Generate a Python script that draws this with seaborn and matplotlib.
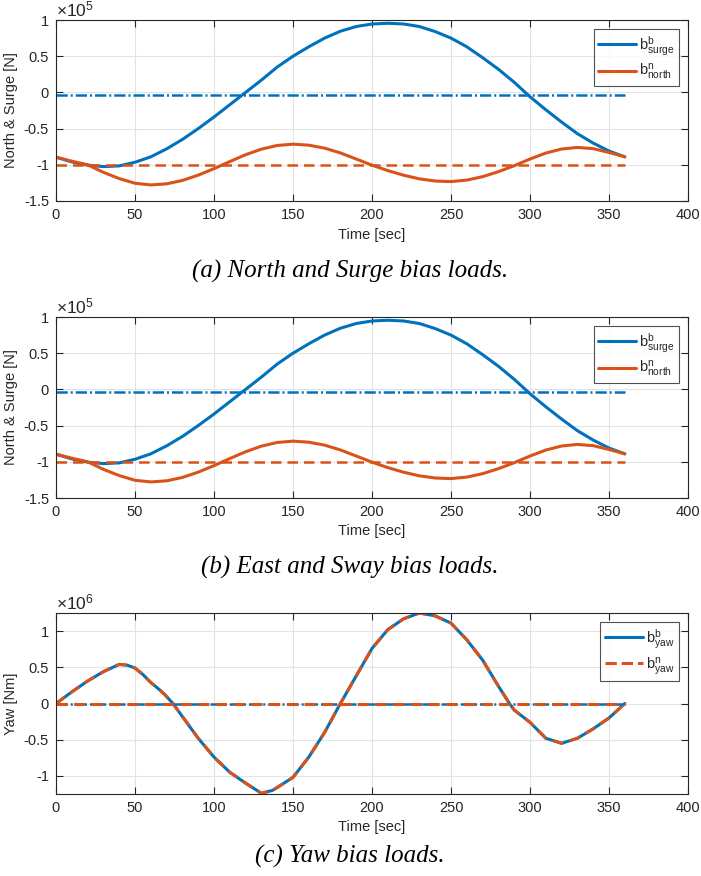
import numpy as np
import pandas as pd
import matplotlib
matplotlib.use("Agg")
import matplotlib.pyplot as plt
import seaborn as sns

# ---------------- data ----------------
# Panel (a)/(b): North & Surge bias loads (x 1e5 N)
t_ns = [0, 10, 20, 30, 40, 50, 60, 70, 80, 90, 100, 110, 120, 130, 140, 150,
        160, 170, 180, 190, 200, 210, 220, 230, 240, 250, 260, 270, 280, 290,
        300, 310, 320, 330, 340, 350, 360]
b_surge = [-0.895, -0.96, -1.005, -1.025, -1.015, -0.965, -0.89, -0.78, -0.65,
           -0.50, -0.34, -0.17, 0.00, 0.17, 0.35, 0.50, 0.63, 0.75, 0.845,
           0.91, 0.945, 0.955, 0.945, 0.91, 0.84, 0.75, 0.63, 0.48, 0.32,
           0.14, -0.06, -0.24, -0.41, -0.57, -0.70, -0.81, -0.89]
b_north = [-0.895, -0.95, -1.00, -1.104, -1.19, -1.255, -1.278, -1.263, -1.216,
           -1.143, -1.053, -0.955, -0.861, -0.784, -0.733, -0.715, -0.729,
           -0.77, -0.836, -0.92, -1.005, -1.08, -1.144, -1.194, -1.224, -1.232,
           -1.211, -1.164, -1.095, -1.013, -0.92, -0.838, -0.782, -0.76,
           -0.777, -0.83, -0.89]
t_const = [0, 360]
surge_const = [-0.04, -0.04]
north_const = [-1.0, -1.0]

# Panel (c): Yaw bias loads (x 1e6 Nm)
t_yaw = [0, 10, 20, 30, 40, 45, 50, 55, 60, 65, 69, 74, 80, 90, 100, 110, 120,
         130, 137, 140, 150, 160, 170, 180, 190, 200, 210, 220, 230, 240, 250,
         260, 270, 280, 287, 290, 300, 310, 320, 330, 340, 350, 360]
b_yaw = [0.0, 0.16, 0.31, 0.44, 0.54, 0.53, 0.49, 0.40, 0.29, 0.20, 0.12, 0.0,
         -0.18, -0.48, -0.74, -0.95, -1.10, -1.24, -1.20, -1.16, -1.02, -0.74,
         -0.40, 0.0, 0.38, 0.76, 1.02, 1.17, 1.25, 1.21, 1.11, 0.88, 0.60,
         0.24, 0.0, -0.09, -0.26, -0.48, -0.55, -0.48, -0.35, -0.20, 0.0]
yaw_const_b = [0.0, 0.0]
yaw_const_n = [0.0, 0.0]

xticks = [0, 50, 100, 150, 200, 250, 300, 350, 400]
yticks_ab = [-1.5, -1, -0.5, 0, 0.5, 1]
yticklabels_ab = ["-1.5", "-1", "-0.5", "0", "0.5", "1"]
yticks_c = [-1, -0.5, 0, 0.5, 1]
yticklabels_c = ["-1", "-0.5", "0", "0.5", "1"]
captions = ["(a) North and Surge bias loads.",
            "(b) East and Sway bias loads.",
            "(c) Yaw bias loads."]

BLUE = "#0072BD"
ORANGE = "#D95319"

# ---------------- style ----------------
sns.set_style("ticks")
plt.rcParams["font.family"] = ["Liberation Sans", "DejaVu Sans"]
plt.rcParams["mathtext.fontset"] = "custom"
plt.rcParams["mathtext.rm"] = "Liberation Sans"
plt.rcParams["mathtext.it"] = "Liberation Sans:italic"

W, H = 701, 876
fig = plt.figure(figsize=(W / 100, H / 100), dpi=100)


def make_axes(top, bottom, left=56, right=688):
    return fig.add_axes([left / W, 1 - bottom / H, (right - left) / W, (bottom - top) / H])


def style_axes(ax, yt, ytl, ylim, ylabel, exp):
    ax.set_xlim(0, 400)
    ax.set_ylim(*ylim)
    ax.set_xticks(xticks)
    ax.set_xticklabels([str(v) for v in xticks])
    ax.set_yticks(yt)
    ax.set_yticklabels(ytl)
    ax.grid(True, color="#e3e3e3", linewidth=0.8)
    ax.set_axisbelow(True)
    for s in ax.spines.values():
        s.set_visible(True)
        s.set_color("#262626")
        s.set_linewidth(0.8)
    ax.tick_params(direction="in", top=True, right=True, length=5, width=0.8,
                   color="#262626", labelsize=10.5, labelcolor="#262626", pad=5)
    ax.set_xlabel("Time [sec]", fontsize=10.5, color="#262626", labelpad=4)
    ax.set_ylabel(ylabel, fontsize=10.5, color="#262626", labelpad=4)
    ax.text(0.0, 1.005, r"$\times\mathregular{10^{%d}}$" % exp, transform=ax.transAxes,
            fontsize=12.5, color="#262626", ha="left", va="bottom")


def legend(ax, labels, styles):
    from matplotlib.lines import Line2D
    handles = [Line2D([0], [0], color=c, lw=2.2, linestyle=ls) for c, ls in styles]
    lg = ax.legend(handles, labels, loc="upper right", fontsize=10.5,
                   frameon=True, fancybox=False, edgecolor="#262626",
                   handlelength=2.6, handletextpad=0.2, borderaxespad=0.65,
                   labelspacing=0.3, borderpad=0.3)
    lg.get_frame().set_linewidth(0.8)


ns_labels = [r"$\mathregular{b^{b}_{surge}}$", r"$\mathregular{b^{n}_{north}}$"]
df_ns = pd.DataFrame({"t": t_ns, "surge": b_surge, "north": b_north})
df_c = pd.DataFrame({"t": t_const, "surge": surge_const, "north": north_const})

for top, bottom in [(20, 201), (317, 498)]:
    ax = make_axes(top, bottom)
    sns.lineplot(data=df_ns, x="t", y="surge", ax=ax, color=BLUE, lw=2.2)
    sns.lineplot(data=df_ns, x="t", y="north", ax=ax, color=ORANGE, lw=2.2)
    sns.lineplot(data=df_c, x="t", y="surge", ax=ax, color=BLUE, lw=1.8)
    ax.lines[-1].set_dashes((4.5, 1.2, 0.8, 1.2))
    sns.lineplot(data=df_c, x="t", y="north", ax=ax, color=ORANGE, lw=1.8)
    ax.lines[-1].set_dashes((4.2, 2.4))
    style_axes(ax, yticks_ab, yticklabels_ab, (-1.5, 1.0), "North & Surge [N]", 5)
    legend(ax, ns_labels, [(BLUE, "-"), (ORANGE, "-")])

df_yaw = pd.DataFrame({"t": t_yaw, "yaw": b_yaw})
df_yc = pd.DataFrame({"t": t_const, "b": yaw_const_b, "n": yaw_const_n})
ax = make_axes(613, 794)
sns.lineplot(data=df_yaw, x="t", y="yaw", ax=ax, color=BLUE, lw=2.2)
sns.lineplot(data=df_yaw, x="t", y="yaw", ax=ax, color=ORANGE, lw=2.2)
ax.lines[-1].set_dashes((3.6, 2.2))
sns.lineplot(data=df_yc, x="t", y="b", ax=ax, color=BLUE, lw=1.8)
ax.lines[-1].set_dashes((4.5, 1.2, 0.8, 1.2))
sns.lineplot(data=df_yc, x="t", y="n", ax=ax, color=ORANGE, lw=2.2)
ax.lines[-1].set_dashes((3.6, 2.2))
style_axes(ax, yticks_c, yticklabels_c, (-1.25, 1.25), "Yaw [Nm]", 6)
legend(ax, [r"$\mathregular{b^{b}_{yaw}}$", r"$\mathregular{b^{n}_{yaw}}$"],
       [(BLUE, "-"), (ORANGE, "--")])

for y, cap in zip([271, 567, 856], captions):
    fig.text(350 / W, 1 - y / H, cap, ha="center", va="center",
             fontsize=18, fontstyle="italic",
             family=["Liberation Serif", "DejaVu Serif"], color="black")

fig.savefig("out.png", dpi=100)
